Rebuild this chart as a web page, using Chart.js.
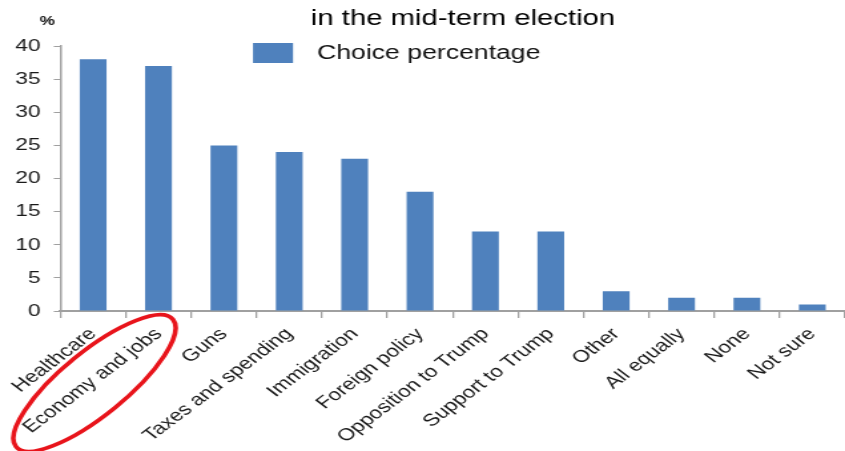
<!DOCTYPE html>
<html>
<head>
<meta charset="utf-8">
<script src="https://cdn.jsdelivr.net/npm/chart.js@4"></script>
<style>
html,body{margin:0;padding:0;background:#fff;overflow:hidden;}
#wrap{width:845px;height:451px;position:relative;overflow:hidden;}
#c{position:absolute;left:0;top:0;transform-origin:0 0;}
</style>
</head>
<body>
<div id="wrap"><canvas id="c" width="635" height="451"></canvas></div>
<script>
const categories = ["Healthcare","Economy and jobs","Guns","Taxes and spending","Immigration","Foreign policy","Opposition to Trump","Support to Trump","Other","All equally","None","Not sure"];
const choicePercentage = [38,37,25,24,23,18,12,12,3,2,2,1];
const seriesLabel = "Choice percentage";
const titleText = "in the mid-term election";
const unitLabel = "%";
const highlightIndex = 1;
const barColor = "#4F81BD";
const FONT = "'Liberation Sans', Arial, sans-serif";

// the reference picture is stretched horizontally; draw narrow and widen
const CANVAS_W = 635;
const STRETCH = 845 / CANVAS_W;
document.getElementById('c').style.transform = 'scaleX(' + STRETCH + ')';

const overlay = {
  id: 'overlay',
  afterDraw(chart) {
    const ctx = chart.ctx;
    const ca = chart.chartArea;
    const x = chart.scales.x;
    ctx.save();
    // title
    ctx.fillStyle = '#000';
    ctx.font = "22px " + FONT;
    ctx.textAlign = 'center';
    ctx.textBaseline = 'middle';
    ctx.fillText(titleText, 463 / STRETCH, 19);
    // legend
    ctx.fillStyle = barColor;
    ctx.fillRect(253 / STRETCH, 43, 40 / STRETCH, 20);
    ctx.fillStyle = '#111';
    ctx.font = "20px " + FONT;
    ctx.textAlign = 'left';
    ctx.fillText(seriesLabel, 317 / STRETCH, 53);
    // unit label
    ctx.font = "bold 13px " + FONT;
    ctx.textAlign = 'center';
    ctx.fillText(unitLabel, ca.left - 10, ca.top - 25);
    // highlight ellipse (built in un-stretched coordinates)
    const cx = x.getPixelForValue(highlightIndex) * STRETCH - 64;
    const cy = ca.bottom + 72;
    ctx.save();
    ctx.scale(1 / STRETCH, 1);
    ctx.beginPath();
    ctx.ellipse(cx, cy, 101, 32, -39 * Math.PI / 180, 0, Math.PI * 2);
    ctx.restore();
    ctx.strokeStyle = '#e8141b';
    ctx.lineWidth = 3.6;
    ctx.stroke();
    ctx.restore();
  }
};

new Chart(document.getElementById('c'), {
  type: 'bar',
  data: {
    labels: categories,
    datasets: [{
      label: seriesLabel,
      data: choicePercentage,
      backgroundColor: barColor,
      borderWidth: 0,
      barPercentage: 0.41,
      categoryPercentage: 1.0
    }]
  },
  options: {
    responsive: false,
    animation: false,
    devicePixelRatio: 1,
    layout: { padding: { top: 46, left: 1.5, right: -5, bottom: -2 } },
    plugins: {
      legend: { display: false },
      title: { display: false },
      tooltip: { enabled: false }
    },
    scales: {
      x: {
        grid: { display: true, drawOnChartArea: false, drawTicks: true, tickLength: 7, color: '#a0a0a0', offset: true, lineWidth: 1.3 },
        border: { color: '#a0a0a0', width: 2 },
        ticks: {
          color: '#1a1a1a',
          font: { family: FONT, size: 17 },
          minRotation: 45, maxRotation: 45,
          autoSkip: false,
          padding: 6
        }
      },
      y: {
        min: 0, max: 40,
        grid: { display: true, drawOnChartArea: false, drawTicks: true, tickLength: 5, color: '#a0a0a0' },
        border: { color: '#a0a0a0', width: 1.5 },
        ticks: {
          stepSize: 5,
          color: '#1a1a1a',
          font: { family: FONT, size: 17 },
          padding: 10
        }
      }
    }
  },
  plugins: [overlay]
});
</script>
</body>
</html>
